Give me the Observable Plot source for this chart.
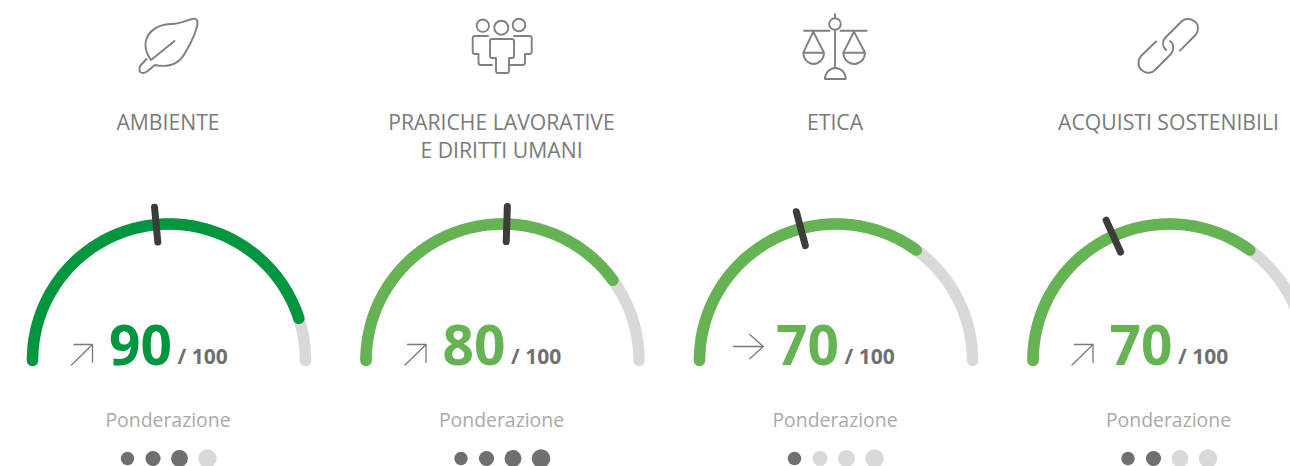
<!DOCTYPE html>
<html><head><meta charset="utf-8">
<script src="https://cdn.jsdelivr.net/npm/d3@7"></script>
<script src="https://cdn.jsdelivr.net/npm/@observablehq/plot@0.6"></script>
<style>html,body{margin:0;padding:0;background:#fff}svg{display:block}</style>
</head><body><div id="c"></div>
<script>
const categories = ["AMBIENTE", "PRARICHE LAVORATIVE\nE DIRITTI UMANI", "ETICA", "ACQUISTI SOSTENIBILI"];
const scores = [90, 80, 70, 70];
const markers = [47, 51, 41.7, 36.5];
const weights = [3, 4, 1, 2];
const trends = ["up", "up", "flat", "up"];
const maxScore = 100;
const ponderazione = "Ponderazione";
const weightLevels = [1, 2, 3, 4];

const FONT = "'Open Sans', sans-serif";
const cx = i => 168.5 + 333.5 * i, cy = 360, R = 136.5;
const px = (i, v, r = R) => cx(i) - r * Math.cos(Math.PI * v / maxScore);
const py = (v, r = R) => cy - r * Math.sin(Math.PI * v / maxScore);
const greens = ["#009640", "#65b352", "#65b352", "#65b352"];
const cols = d3.range(categories.length);
const arcPts = (i, to) => d3.range(0, to + 0.25, 0.5).map(v => ({i, v}));
const track = cols.flatMap(i => arcPts(i, maxScore));
const fill = cols.flatMap(i => arcPts(i, scores[i]));
const ticks = cols.flatMap(i => [119, 154].map(r => ({i, v: markers[i], r})));
const dots = cols.flatMap(i => weightLevels.map(l => ({i, l, on: l <= weights[i]})));
const dotOff = [-41.5, -16, 10.5, 38.5];

// arrow glyphs: shaft and open head, relative to the gauge centre
const glyphs = {
  up: [[[-97.5, 4.5], [-76.5, -16]], [[-95, -16], [-76.5, -16], [-76.5, 2]]],
  flat: [[[-102.5, -14], [-72.8, -14]], [[-86.2, -26], [-72.8, -14], [-86.2, -1.7]]]
};
const arrows = cols.flatMap(i => glyphs[trends[i]].flatMap((seg, s) =>
  seg.map(([dx, dy]) => ({i, s, dx, dy, key: i + "-" + s}))));

const icons = [
 [`M146.5 59L140 66Q138.5 71 141 72.5Q144 74 147 71.5L155 65C165 67 178 66 185 53C191 43 196 33 197.5 24C198 19 195 18 192 19C185 21 180 24 172 24C160 24 147 30 145.5 43C145 50 148 56 151 60M151 60L174.5 41`],
 [`M476.6 25.7a6.2 6.2 0 1 0 12.4 0a6.2 6.2 0 1 0 -12.4 0M494.3 27.7a7 7 0 1 0 14 0a7 7 0 1 0 -14 0M512.7 25a6.3 6.3 0 1 0 12.6 0a6.3 6.3 0 1 0 -12.6 0`,
  `M492 39H512Q514 39 514 41V56Q514 58 512 58H509V71Q509 73 507 73H498Q496 73 496 71V58H492Q490 58 490 56V41Q490 39 492 39`,
  `M488 36H475Q472.7 36 472.7 38V52Q472.7 54 475 54H478.5V63Q478.5 65 481 65H492`,
  `M514 36H529.5Q531.7 36 531.7 38V52Q531.7 54 529.5 54H525V63Q525 65 522.5 65H509`],
 [`M835 14V18.2M829.2 24a5.8 5.8 0 1 0 11.6 0a5.8 5.8 0 1 0 -11.6 0M835 29.8V68M804 30.7H829.5M840.5 30.7H866.7`,
  `M813.3 31.7L803.3 52.7H824L813.3 31.7M803.3 52.7A10.35 11.3 0 0 0 824 52.7`,
  `M854 31.7L843.3 52.7H865L854 31.7M843.3 52.7A10.85 11.3 0 0 0 865 52.7`,
  `M825 79H845.7A10.35 11 0 0 0 825 79`],
 [`M1180 50.7L1195 35.5C1200 30 1198 23 1194 21C1190 18 1185 18.5 1182 21L1166 37C1161 42 1163 47 1166 50`,
  `M1156 41.5L1141 56C1137 61 1138 68 1143 71C1147 74 1152 73 1155 70L1171 54C1175 48 1173 43 1170 41`]
];

const iconMark = () => {
  const g = d3.create("svg:g").attr("fill","none").attr("stroke","#808080").attr("stroke-width",1.9).attr("stroke-linecap","round").attr("stroke-linejoin","round");
  icons.flat().forEach(d => g.append("path").attr("d", d));
  return g.node();
};

const titleRows = cols.flatMap(i => categories[i].split("\n").map((t, k) => ({i, t, k})));

const chart = Plot.plot({
  width: 1290, height: 466, margin: 0,
  style: {background: "#fff", fontFamily: FONT},
  x: {type: "identity", axis: null},
  y: {type: "identity", axis: null},
  r: {type: "identity"},
  marks: [
    iconMark,
    Plot.text(titleRows, {x: d => cx(d.i) - 1, y: d => 129 + 28 * d.k, text: "t", fontSize: 21.2, fill: "#7a7a7a", textAnchor: "middle", lineAnchor: "bottom", dy: 0, fontFamily: FONT}),
    Plot.line(track, {x: d => px(d.i, d.v), y: d => py(d.v), z: "i", stroke: "#d9d9d9", strokeWidth: 11.5, strokeLinecap: "round"}),
    Plot.line(fill, {x: d => px(d.i, d.v), y: d => py(d.v), z: "i", stroke: d => greens[d.i], strokeWidth: 11.5, strokeLinecap: "round"}),
    Plot.line(ticks, {x: d => px(d.i, d.v, d.r), y: d => py(d.v, d.r), z: "i", stroke: "#3c3c3b", strokeWidth: 7, strokeLinecap: "round"}),
    Plot.line(arrows, {x: d => cx(d.i) + d.dx, y: d => cy + d.dy, z: "key", stroke: "#7a7a7a", strokeWidth: 1.3, strokeLinejoin: "miter"}),
    Plot.text(cols, {x: i => cx(i) - 60, y: 365, text: i => String(scores[i]), fill: i => greens[i], fontSize: 55, fontWeight: 700, textAnchor: "start", lineAnchor: "bottom", dy: -1, fontFamily: FONT}),
    Plot.text(cols, {x: i => cx(i) + 8.5, y: 364, text: () => "/ " + maxScore, fill: "#6f6f6f", fontSize: 21, fontWeight: 700, textAnchor: "start", lineAnchor: "bottom", dy: -1, fontFamily: FONT}),
    Plot.text(cols, {x: i => cx(i) - 1, y: 426, text: () => ponderazione, fill: "#aaaaaa", fontSize: 19.4, textAnchor: "middle", lineAnchor: "bottom", dy: 0, fontFamily: FONT}),
    Plot.dot(dots, {x: d => cx(d.i) + dotOff[d.l - 1], y: 458, r: d => 6.7 + (d.l - 1) * 0.87, fill: d => d.on ? "#6f6f6f" : "#d9d9d9"})
  ]
});
document.getElementById("c").append(chart);
</script></body></html>
